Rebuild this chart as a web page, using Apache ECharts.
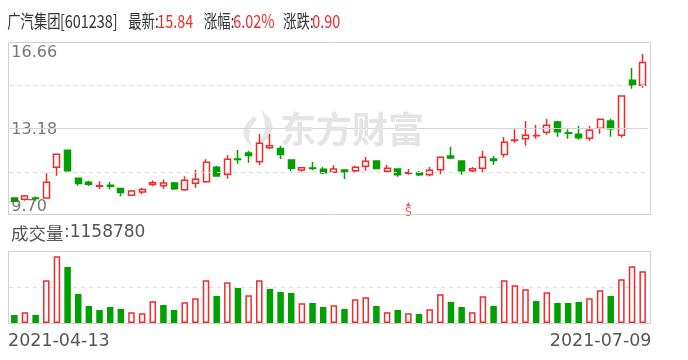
<!DOCTYPE html>
<html><head><meta charset="utf-8">
<script src="https://cdn.jsdelivr.net/npm/echarts@6/dist/echarts.min.js"></script>
<style>html,body{margin:0;padding:0;background:#fff}#c{width:688px;height:360px}</style>
</head><body><div id="c"></div>
<script>
const stockName = '广汽集团';
const stockCode = '601238';
const dates = [
 '2021-04-13','2021-04-14','2021-04-15','2021-04-16','2021-04-19','2021-04-20','2021-04-21','2021-04-22','2021-04-23','2021-04-26',
 '2021-04-27','2021-04-28','2021-04-29','2021-04-30','2021-05-06','2021-05-07','2021-05-10','2021-05-11','2021-05-12','2021-05-13',
 '2021-05-14','2021-05-17','2021-05-18','2021-05-19','2021-05-20','2021-05-21','2021-05-24','2021-05-25','2021-05-26','2021-05-27',
 '2021-05-28','2021-05-31','2021-06-01','2021-06-02','2021-06-03','2021-06-04','2021-06-07','2021-06-08','2021-06-09','2021-06-10',
 '2021-06-11','2021-06-15','2021-06-16','2021-06-17','2021-06-18','2021-06-21','2021-06-22','2021-06-23','2021-06-24','2021-06-25',
 '2021-06-28','2021-06-29','2021-06-30','2021-07-01','2021-07-02','2021-07-05','2021-07-06','2021-07-07','2021-07-08','2021-07-09'];
const opens = [
 10.38,10.33,10.38,10.38,11.62,12.31,11.18,11.02,10.86,10.90,
 10.77,10.49,10.63,10.93,10.88,10.99,10.72,10.98,11.04,11.62,
 11.34,11.95,12.19,11.84,12.41,12.38,11.91,11.51,11.59,11.54,
 11.42,11.51,11.48,11.66,11.87,11.46,11.55,11.38,11.39,11.32,
 11.52,12.07,11.87,11.48,11.58,11.95,12.13,12.70,12.77,12.89,
 13.03,13.44,13.01,12.95,12.79,13.19,13.48,12.91,15.12,14.92];
const closes = [
 10.25,10.46,10.36,11.02,12.14,11.48,10.97,10.94,10.88,10.86,
 10.61,10.67,10.73,11.00,10.99,10.76,11.10,11.14,11.82,11.27,
 11.94,11.93,12.09,12.59,12.49,12.13,11.58,11.60,11.57,11.40,
 11.55,11.44,11.62,11.86,11.57,11.58,11.32,11.40,11.32,11.50,
 12.02,11.99,11.48,11.56,12.02,11.89,12.63,12.72,12.91,12.90,
 13.31,13.05,12.99,12.81,13.11,13.55,13.17,14.49,14.94,15.84];
const lows = [
 10.24,10.27,10.27,10.35,11.28,11.46,10.88,10.87,10.75,10.73,
 10.45,10.49,10.53,10.86,10.76,10.71,10.68,10.80,11.00,11.24,
 11.16,11.76,11.80,11.71,12.36,11.95,11.47,11.44,11.51,11.35,
 11.41,11.15,11.40,11.48,11.56,11.40,11.24,11.32,11.27,11.26,
 11.34,11.95,11.32,11.43,11.40,11.72,12.01,12.61,12.49,12.77,
 12.93,12.85,12.77,12.73,12.69,12.97,12.85,12.81,14.78,14.82];
const highs = [
 10.40,10.50,10.44,11.38,12.15,12.31,11.18,11.08,11.06,11.03,
 10.78,10.71,10.80,11.09,11.14,11.03,11.26,11.51,11.94,11.67,
 12.11,12.32,12.28,12.96,12.96,12.48,11.92,11.63,11.83,11.63,
 11.70,11.52,11.68,12.03,11.88,11.71,11.56,11.55,11.47,11.63,
 12.02,12.44,11.87,11.63,12.28,12.07,12.84,13.15,13.48,13.32,
 13.56,13.48,13.15,13.28,13.28,13.55,13.56,14.49,15.61,16.18];
const volumes = [
 179000,240000,179000,957000,1495000,1255000,650000,381000,291000,359000,
 314000,240000,217000,486000,403000,291000,464000,554000,957000,605000,
 912000,784000,621000,957000,762000,695000,672000,442000,448000,359000,
 397000,314000,531000,576000,381000,240000,291000,217000,202000,307000,
 643000,471000,359000,240000,598000,381000,957000,845000,755000,493000,
 688000,448000,448000,471000,554000,733000,605000,979000,1271000,1158780];
const priceTicks = [9.70, 11.44, 13.18, 14.92, 16.66];
const priceTickLabels = ['9.70', '', '13.18', '', '16.66'];
const volumeMax = 1614000;
const signals = [{ date: '2021-06-08', price: 10.13, text: 'S' }];

const RED = '#f22a2a', GREEN = '#00a000', TXT = '#555';
const n = dates.length;
// volume colour: close vs previous close (first day: candle direction)
const volUp = i => i === 0 ? closes[i] >= opens[i] : (closes[i] === closes[i-1] ? closes[i] >= opens[i] : closes[i] > closes[i-1]);
const latest = closes[n-1];
const change = latest - closes[n-2];
const pct = change / closes[n-2] * 100;

const chart = echarts.init(document.getElementById('c'), null, { renderer: 'canvas' });

const CJK = '"Noto Sans CJK SC", sans-serif';
const DV = '"DejaVu Sans", sans-serif';
const HEAD = '18px ' + CJK;
const HS = 0.74, HD = 0.8;

function txt(x, y, text, color, font, align, sx) {
  return { type: 'text', x: x, y: y, z: 10, scaleX: sx || 1,
    style: { text: text, fill: color, font: font, align: align || 'left', verticalAlign: 'middle' } };
}

const graphics = [
  // watermark logo + text
  { type: 'polygon', x: 240, y: 110, z: 0,
    shape: { points: [[21,0],[30,8],[33,18],[29,28],[15,37],[23,27],[25,17],[24,8]] },
    style: { fill: '#e6e6ea' } },
  { type: 'polygon', x: 240, y: 110, z: 0,
    shape: { points: [[14,6],[6,14],[3,23],[6,31],[12,37],[9,28],[10,19],[17,9]] },
    style: { fill: '#e6e6ea' } },
  txt(280, 129, '东方财富', '#e4e4e8', 'bold 36px ' + CJK),
  // borders
  { type: 'rect', z: 5, shape: { x: 8.5, y: 42.5, width: 642, height: 172 }, style: { fill: 'none', stroke: '#d2d2d2', lineWidth: 1 } },
  { type: 'rect', z: 5, shape: { x: 8.5, y: 251.5, width: 642, height: 72 }, style: { fill: 'none', stroke: '#d2d2d2', lineWidth: 1 } },
  // header
  txt(7.3, 21, stockName, '#333', HEAD, 'left', HS),
  txt(60, 21, '[' + stockCode + ']', '#333', HEAD, 'left', HD),
  txt(128.3, 21, '最新:', '#333', HEAD, 'left', HS),
  txt(157.3, 21, latest.toFixed(2), RED, HEAD, 'left', HD),
  txt(204, 21, '涨幅:', '#333', HEAD, 'left', HS),
  txt(233.3, 21, pct.toFixed(2) + '%', RED, HEAD, 'left', HD),
  txt(283.3, 21, '涨跌:', '#333', HEAD, 'left', HS),
  txt(312.3, 21, change.toFixed(2), RED, HEAD, 'left', HD),
  // volume title
  txt(11, 233, '成交量', TXT, '17.5px ' + CJK),
  txt(64, 233, ':' + volumes[n-1], TXT, '17px ' + DV),
  // date labels
  txt(8, 341, dates[0], TXT, '17.5px ' + DV, 'left'),
  txt(651.5, 341, dates[n-1], TXT, '17.5px ' + DV, 'right')
];

const tickLabelOffsets = { '16.66': [-3, 11], '13.18': [-3, 1], '9.70': [-3, -8] };

chart.setOption({
  animation: false,
  backgroundColor: '#fff',
  graphic: graphics,
  grid: [
    { left: 9, right: 40, top: 42, height: 173 },
    { left: 9, right: 40, top: 251, height: 72 }
  ],
  xAxis: [
    { type: 'category', data: dates, gridIndex: 0, boundaryGap: true, axisLine: { show: false }, axisTick: { show: false }, axisLabel: { show: false }, splitLine: { show: false } },
    { type: 'category', data: dates, gridIndex: 1, boundaryGap: true, axisLine: { show: false }, axisTick: { show: false }, axisLabel: { show: false }, splitLine: { show: false } }
  ],
  yAxis: [
    { type: 'value', gridIndex: 0, min: priceTicks[0], max: priceTicks[priceTicks.length-1], show: false, splitLine: { show: false } },
    { type: 'value', gridIndex: 1, min: 0, max: volumeMax, interval: volumeMax / 2,
      axisLine: { show: false }, axisTick: { show: false }, axisLabel: { show: false },
      splitLine: { show: true, lineStyle: { color: '#dcdcdc', type: [4, 4], width: 1 } } }
  ],
  series: [
    {
      type: 'candlestick', xAxisIndex: 0, yAxisIndex: 0, z: 3,
      barWidth: 6.5,
      data: dates.map((d, i) => [opens[i], closes[i], lows[i], highs[i]]),
      itemStyle: { color: '#fff', color0: GREEN, borderColor: RED, borderColor0: GREEN, borderWidth: 1.5 },
      markLine: {
        silent: true, symbol: ['none', 'none'], animation: false,
        label: { show: false },
        data: priceTicks.slice(1, -1).map((v, i) => ({
          yAxis: v,
          lineStyle: { color: i === 1 ? '#d4d4d4' : '#dcdcdc', width: 1, type: i === 1 ? 'solid' : [4, 4] }
        }))
      }
    },
    {
      type: 'scatter', xAxisIndex: 0, yAxisIndex: 0, z: 4, symbolSize: 0, silent: true,
      data: priceTicks.map((v, i) => ({
        value: [dates[0], v], name: priceTickLabels[i],
        label: { offset: tickLabelOffsets[priceTickLabels[i]] || [0, 0] }
      })).filter(d => d.name),
      label: {
        show: true, position: 'right', distance: 0, color: TXT, fontFamily: 'DejaVu Sans', fontSize: 16,
        formatter: p => p.name
      }
    },
    {
      type: 'scatter', xAxisIndex: 0, yAxisIndex: 0, z: 4, silent: true,
      symbol: 'triangle', symbolSize: [5, 4],
      itemStyle: { color: RED },
      data: signals.map(s => ({ value: [s.date, s.price], name: s.text })),
      label: { show: true, position: 'bottom', distance: 1, formatter: p => p.name, color: RED, fontSize: 12, fontFamily: 'DejaVu Sans Condensed' }
    },
    {
      type: 'bar', xAxisIndex: 1, yAxisIndex: 1, barWidth: 6.5,
      data: volumes.map((v, i) => ({
        value: v,
        itemStyle: volUp(i) ? { color: '#fff', borderColor: RED, borderWidth: 1.5 } : { color: GREEN, borderColor: GREEN, borderWidth: 1.5 }
      }))
    }
  ]
});
</script></body></html>
